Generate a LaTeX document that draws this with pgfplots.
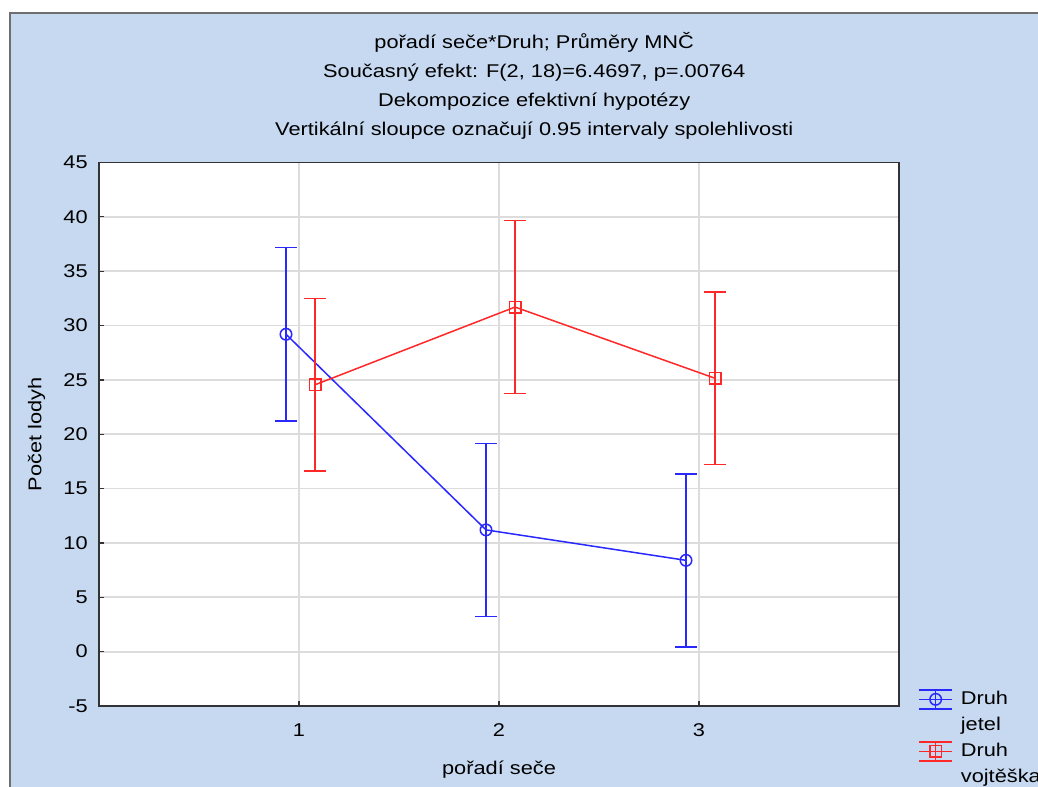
\documentclass[border=0pt]{standalone}
\usepackage{pgfplots}
\pgfplotsset{compat=1.18}
\usepackage{fontspec}
\setmainfont{Liberation Sans}[FakeStretch=1.18]
\definecolor{bgblue}{RGB}{198,217,240}
\definecolor{frgrey}{RGB}{110,110,110}
\definecolor{gridgrey}{RGB}{220,220,220}
\definecolor{sblue}{RGB}{40,40,255}
\definecolor{sred}{RGB}{255,40,40}
\begin{document}
\begin{tikzpicture}[font=\fontsize{10.5}{12.5}\selectfont]
% 1 px of the reference = 0.02cm
\useasboundingbox (0,0) rectangle (20.76,15.74);
\fill[white] (0,0) rectangle (20.76,15.74);
\fill[bgblue] (0.18,0) rectangle (20.76,15.47);
\draw[frgrey, line width=0.04cm] (0.19,0) -- (0.19,15.47) -- (20.76,15.47);
\begin{axis}[
    at={(1.98cm,1.62cm)}, anchor=south west,
    width=16.0cm, height=10.87cm, scale only axis,
    xmin=0, xmax=4, ymin=-5, ymax=45,
    xtick={1,2,3}, ytick={-5,0,...,45},
    grid=major, major grid style={gridgrey, line width=0.035cm},
    axis background/.style={fill=white},
    axis line style={black!80, line width=0.035cm},
    tick align=inside, tick pos=left, major tick length=0.1cm,
    tick style={black!80, line width=0.025cm},
    /pgf/number format/assume math mode=true,
    tick label style={font=\fontsize{10.5}{12.5}\selectfont},
    yticklabel style={anchor=east, inner sep=0pt, xshift=-0.22cm},
    xticklabel style={anchor=north, inner sep=0pt, yshift=-0.34cm},
    title={pořadí seče*Druh; Průměry MNČ\\Současný efekt: F(2, 18)=6.4697, p=.00764\\Dekompozice efektivní hypotézy\\Vertikální sloupce označují 0.95 intervaly spolehlivosti},
    title style={align=center, font=\fontsize{10.5}{16.5}\selectfont, at={(0.544,1)}, anchor=south, inner sep=0pt, yshift=0.25cm},
    xlabel={pořadí seče},
    xlabel style={at={(axis description cs:0.5,0)}, anchor=base, inner sep=0pt, yshift=-1.38cm, font=\fontsize{10.5}{12.5}\selectfont},
    ylabel={Počet lodyh},
    ylabel style={at={(axis description cs:0,0.5)}, anchor=base, inner sep=0pt, yshift=1.15cm, font=\fontsize{10.5}{12.5}\selectfont},
    legend style={at={(1.0238,0.0368)}, anchor=north west, draw=none, fill=none, inner sep=0pt, column sep=0.16cm, row sep=0pt, cells={anchor=west},
        nodes={inner sep=0pt, text height=0.36cm, text depth=0.16cm, font=\fontsize{10.5}{12.5}\selectfont}},
    legend image code/.code={
        \draw[#1, mark=none] (0cm,0cm) -- (0.66cm,0cm);
        \draw[#1, mark=none] (0cm,0.19cm) -- (0.66cm,0.19cm);
        \draw[#1, mark=none] (0cm,-0.19cm) -- (0.66cm,-0.19cm);
        \draw[#1, mark=none] (0.33cm,-0.19cm) -- (0.33cm,0.19cm);
        \draw[#1] plot coordinates {(0.33cm,0cm)};
    },
]
\addplot[sblue, line width=0.03cm, mark=o, mark size=0.115cm,
    error bars/.cd, y dir=both, y explicit,
    error bar style={line width=0.03cm},
    error mark options={rotate=90, mark size=0.22cm, line width=0.03cm}]
    coordinates {(0.935,29.2) +- (0,8.0) (1.935,11.2) +- (0,7.95) (2.935,8.4) +- (0,7.95)};
\addlegendentry{Druh}
\addlegendimage{empty legend}
\addlegendentry{jetel}
\addplot[sred, line width=0.03cm, mark=square, mark size=0.115cm,
    error bars/.cd, y dir=both, y explicit,
    error bar style={line width=0.03cm},
    error mark options={rotate=90, mark size=0.22cm, line width=0.03cm}]
    coordinates {(1.08,24.55) +- (0,7.95) (2.08,31.7) +- (0,7.95) (3.08,25.15) +- (0,7.95)};
\addlegendentry{Druh}
\addlegendimage{empty legend}
\addlegendentry{vojtěška}
\end{axis}
\end{tikzpicture}
\end{document}
